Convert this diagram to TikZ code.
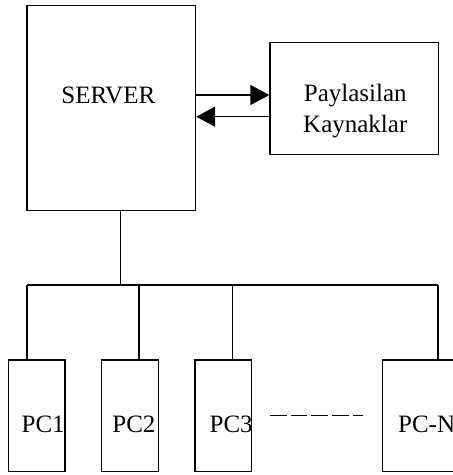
\documentclass[tikz,border=0pt]{standalone}
\usepackage{fontspec}
\setmainfont{Liberation Serif}
\usetikzlibrary{arrows.meta,calc}
\begin{document}
\begin{tikzpicture}[x=1pt,y=-1pt,line width=1.3pt,
  box/.style={draw,rectangle,inner sep=0pt},
  pcbox/.style={box,minimum width=56.7pt,minimum height=111.7pt},
  lbl/.style={font=\fontsize{25}{31}\selectfont,inner sep=0pt},
  arr/.style={-{Triangle[length=19pt,width=20pt]}}]
\useasboundingbox (0,0) rectangle (453,475);
\clip (0,0) rectangle (453,475);
% boxes
\node[box,minimum width=168.7pt,minimum height=205.5pt] (srv) at (111.2,108) {};
\node[lbl,anchor=base] (srvlbl) at (108.3,103.3) {SERVER};
\node[box,minimum width=168.3pt,minimum height=112pt] (pay) at (354.2,98.3) {};
\node[lbl,align=center] (paylbl) at (355.3,111.2) {Paylasilan\\Kaynaklar};
% arrows
\coordinate (a1) at (0,95);
\coordinate (a2) at (0,116.7);
\draw[arr] (srv.east |- a1) -- (pay.west |- a1);
\draw[arr] (pay.west |- a2) -- (srv.east |- a2);
% PCs
\node[pcbox] (pc1) at (36.7,415.8) {};
\node[pcbox] (pc2) at (130,415.8) {};
\node[pcbox] (pc3) at (223.3,415.8) {};
\node[box,minimum width=113.7pt,minimum height=111.7pt] (pcn) at (439.2,415.8) {};
\node[lbl,anchor=base west] (l1) at (21,432) {PC1};
\node[lbl,anchor=base west] (l2) at (111.7,432) {PC2};
\node[lbl,anchor=base west] (l3) at (209,432) {PC3};
\node[lbl,anchor=base west] (ln) at (397.5,432) {PC-N};
% bus
\coordinate (t) at (120.7,285);
\coordinate (b1) at (27,285);
\coordinate (b2) at (139,285);
\coordinate (b3) at (232.7,285);
\coordinate (b4) at (438,285);
\draw (t |- srv.south) -- (t);
\draw (b1) -- (b4);
\draw (b1) -- (b1 |- pc1.north);
\draw (b2) -- (b2 |- pc2.north);
\draw (b3) -- (b3 |- pc3.north);
\draw (b4) -- (b4 |- pcn.north);
% dashes
\draw[dash pattern=on 16.7pt off 4pt] ($(pc3.east)+(17.6,0)$) -- ($(pcn.west)+(-18.3,0)$);
\end{tikzpicture}
\end{document}
